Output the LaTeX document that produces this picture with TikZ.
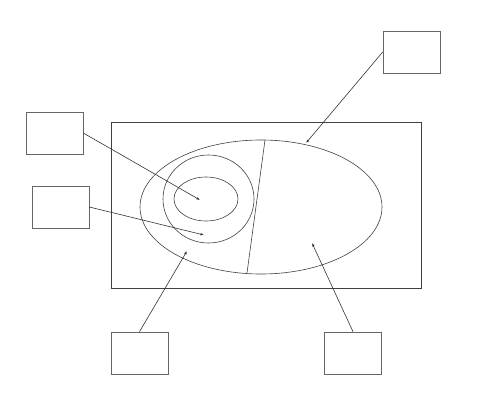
\documentclass[tikz,border=0pt]{standalone}
\usetikzlibrary{arrows.meta}
\begin{document}
\begin{tikzpicture}[x=1pt,y=-1pt,line width=0.6pt,
  box/.style={draw=black!60,rectangle,minimum width=57pt,minimum height=42pt,inner sep=0pt},
  pointer/.style={draw=black!80,-{Latex[length=3.5pt,width=2.5pt]}}]

       \useasboundingbox (0,0) rectangle (482,407);

       % frame and regions
       \draw[black!75] (111,122) rectangle (421,288);
       \draw[black!75] (261,207) ellipse [x radius=121, y radius=67];
       \draw[black!75] (208.5,199) ellipse [x radius=45.5, y radius=44];
       \draw[black!75] (206,199) ellipse [x radius=32, y radius=22];
       \draw[black!75] (265,140) -- (247,273);

       % boxes
       \node[box] (tr) at (411.5,52) {};
       \node[box] (l1) at (54.5,133) {};
       \node[box] (l2) at (60.5,207) {};
       \node[box] (bl) at (139.5,353) {};
       \node[box] (br) at (353,353) {};

       % targets
       \coordinate (inner) at (200,200);
       \coordinate (ring) at (204,235);
       \coordinate (outer) at (187,251);
       \coordinate (right) at (312,243);
       \coordinate (edge) at (306,143);

       \draw[pointer] (l1.east) -- (inner);
       \draw[pointer] (l2.east) -- (ring);
       \draw[pointer] (bl.north) -- (outer);
       \draw[pointer] (br.north) -- (right);
       \draw[pointer] (tr.west) -- (edge);
     \end{tikzpicture}
\end{document}
